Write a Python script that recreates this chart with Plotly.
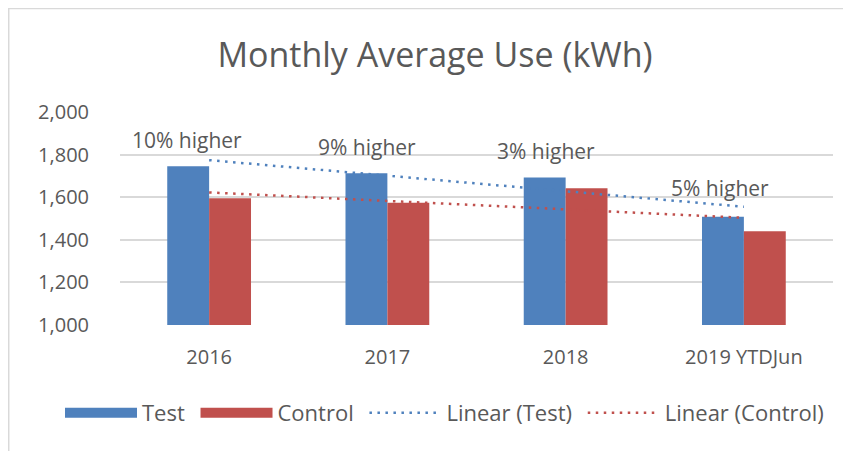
import numpy as np
import plotly.graph_objects as go

categories = ["2016", "2017", "2018", "2019 YTDJun"]
test_values = [1745, 1712, 1693, 1508]
control_values = [1595, 1574, 1642, 1440]
label_texts = ["10% higher", "9% higher", "3% higher", "5% higher"]
label_y = [1868, 1836, 1817, 1643]
label_xshift = [-22, -20, -20, -24]

BLUE = "#4F81BD"
RED = "#C0504D"
GREY = "#595959"
FONT = "Open Sans"
PAD = "\u00a0"

idx = np.arange(1, len(categories) + 1)
tp = np.polyfit(idx, test_values, 1)
cp = np.polyfit(idx, control_values, 1)
test_trend = np.polyval(tp, idx)
control_trend = np.polyval(cp, idx)

DOT = "2.5px,5.5px"

fig = go.Figure()
fig.add_trace(go.Bar(x=categories, y=test_values, name="Test", marker=dict(color=BLUE, line=dict(width=0)), showlegend=False))
fig.add_trace(go.Bar(x=categories, y=control_values, name="Control", marker=dict(color=RED, line=dict(width=0)), showlegend=False))
fig.add_trace(go.Scatter(x=categories, y=test_trend, mode="lines", name="Linear (Test)",
                         line=dict(color=BLUE, width=2.5, dash=DOT), showlegend=False))
fig.add_trace(go.Scatter(x=categories, y=control_trend, mode="lines", name="Linear (Control)",
                         line=dict(color=RED, width=2.5, dash=DOT), showlegend=False))

# legend entries
fig.add_trace(go.Scatter(x=[None], y=[None], mode="lines", name="Test" + PAD, line=dict(color=BLUE, width=13)))
fig.add_trace(go.Scatter(x=[None], y=[None], mode="lines", name="Control" + PAD, line=dict(color=RED, width=13)))
fig.add_trace(go.Scatter(x=[None], y=[None], mode="lines", name="Linear (Test)" + PAD, line=dict(color=BLUE, width=2.5, dash=DOT)))
fig.add_trace(go.Scatter(x=[None], y=[None], mode="lines", name="Linear (Control)", line=dict(color=RED, width=2.5, dash=DOT)))

for i, (t, yv, xs) in enumerate(zip(label_texts, label_y, label_xshift)):
    fig.add_annotation(x=i, y=yv, text=t, showarrow=False, xshift=xs,
                       font=dict(family=FONT, size=21, color=GREY))

W, H = 843, 443
ML, MR, MT, MB = 112, 18, 104, 126
pw = W - ML - MR
ph = H - MT - MB

fig.add_shape(type="rect", xref="paper", yref="paper", x0=-ML / pw + 0.001, x1=1.2, y0=-1.0, y1=1 + MT / ph - 0.002,
              line=dict(color="#D9D9D9", width=1.5), fillcolor="rgba(0,0,0,0)", layer="below")

fig.update_layout(
    width=W, height=H,
    margin=dict(l=ML, r=MR, t=MT, b=MB, autoexpand=False),
    paper_bgcolor="white", plot_bgcolor="white",
    title=dict(text="Monthly Average Use (kWh)", x=(435 - 8) / W, xanchor="center", y=1 - 47 / H, yanchor="middle",
               font=dict(family=FONT, size=34, color=GREY)),
    barmode="group", bargap=0.53, bargroupgap=0,
    showlegend=True,
    legend=dict(orientation="h", xref="paper", yref="paper",
                x=(52 - 112) / pw, xanchor="left", y=(317 - 405) / ph, yanchor="middle",
                font=dict(family=FONT, size=22, color=GREY), itemwidth=72, bgcolor="rgba(0,0,0,0)"),
    font=dict(family=FONT, color=GREY),
)
fig.update_yaxes(range=[1000, 2000], dtick=200, tickformat=",d", showgrid=True, gridcolor="#D9D9D9", gridwidth=1.5,
                 zeroline=False, showline=False, ticks="", ticklabelstandoff=30,
                 tickfont=dict(family=FONT, size=20, color=GREY))
fig.update_xaxes(type="category", categoryorder="array", categoryarray=categories,
                 showgrid=False, showline=False, ticks="", ticklabelstandoff=18,
                 tickfont=dict(family=FONT, size=20, color=GREY))

fig.write_html("out.html")
